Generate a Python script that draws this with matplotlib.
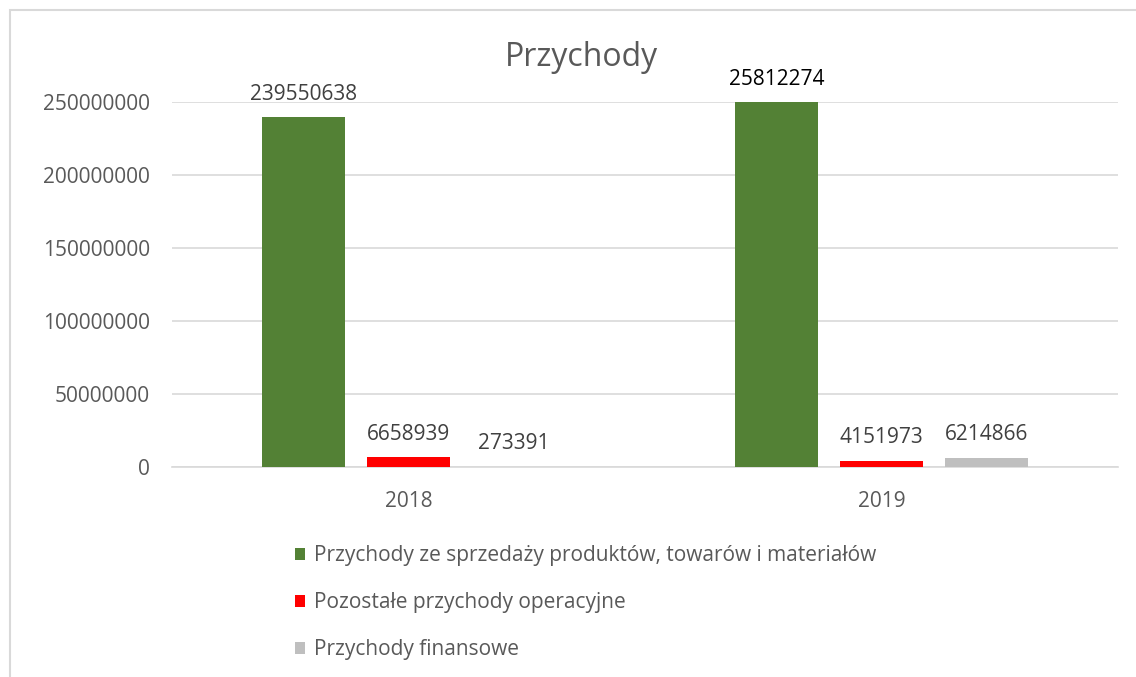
import matplotlib.pyplot as plt
from matplotlib.patches import Rectangle

plt.rcParams['font.family'] = ['Open Sans', 'DejaVu Sans']

# Data
years = ['2018', '2019']
series = [
    'Przychody ze sprzedaży produktów, towarów i materiałów',
    'Pozostałe przychody operacyjne',
    'Przychody finansowe',
]
sprzedaz = [239550638, 258122740]
operacyjne = [6658939, 4151973]
finansowe = [273391, 6214866]
label_text = [
    ['239550638', '25812274'],
    ['6658939', '4151973'],
    ['273391', '6214866'],
]
colors = ['#538135', '#ff0000', '#bfbfbf']

fig = plt.figure(figsize=(11.36, 6.77), dpi=100)
ax = fig.add_axes([0.1514, 0.3102, 0.8327, 0.5391])

# outer chart frame (left and top edges visible)
fig.patches.append(Rectangle((10 / 1136, -0.1), 1.2, (677 - 10) / 677 + 0.1,
                             transform=fig.transFigure, fill=False,
                             edgecolor='#d9d9d9', linewidth=1.5))

width = 0.1755
step = 0.222
x = list(range(len(years)))
for i, vals in enumerate([sprzedaz, operacyjne, finansowe]):
    pos = [xi + (i - 1) * step for xi in x]
    ax.bar(pos, vals, width=width, color=colors[i], label=series[i], zorder=3)
    for j, (p, v) in enumerate(zip(pos, vals)):
        top = min(v, 250000000)
        col = '#000000' if v > 250000000 else '#404040'
        ax.annotate(label_text[i][j], (p, top), xytext=(0, 9),
                    textcoords='offset points', ha='center', va='bottom',
                    fontsize=15, color=col, annotation_clip=False)

ax.set_xlim(-0.5, 1.5)
ax.set_ylim(0, 250000000)
ax.set_yticks(range(0, 250000001, 50000000))
ax.set_yticklabels([str(v) for v in range(0, 250000001, 50000000)])
ax.set_xticks(x)
ax.set_xticklabels(years)
ax.tick_params(axis='both', length=0, labelsize=15, labelcolor='#595959')
ax.tick_params(axis='y', pad=16)
ax.tick_params(axis='x', pad=17)
ax.grid(axis='y', color='#d9d9d9', linewidth=1.2, zorder=0)
for s in ['top', 'right', 'left']:
    ax.spines[s].set_visible(False)
ax.spines['bottom'].set_color('#d9d9d9')
ax.spines['bottom'].set_linewidth(1.2)

fig.text(581 / 1136, 1 - 58 / 677, 'Przychody', ha='center', va='center',
         fontsize=23, color='#595959')

fig.legend(loc='upper left', bbox_to_anchor=(295 / 1136, 1 - 545 / 677),
           frameon=False, fontsize=15, labelcolor='#595959',
           handlelength=0.5, handleheight=0.5, handletextpad=0.4,
           labelspacing=1.25, borderaxespad=0, borderpad=0)

fig.savefig('out.png', dpi=100)
